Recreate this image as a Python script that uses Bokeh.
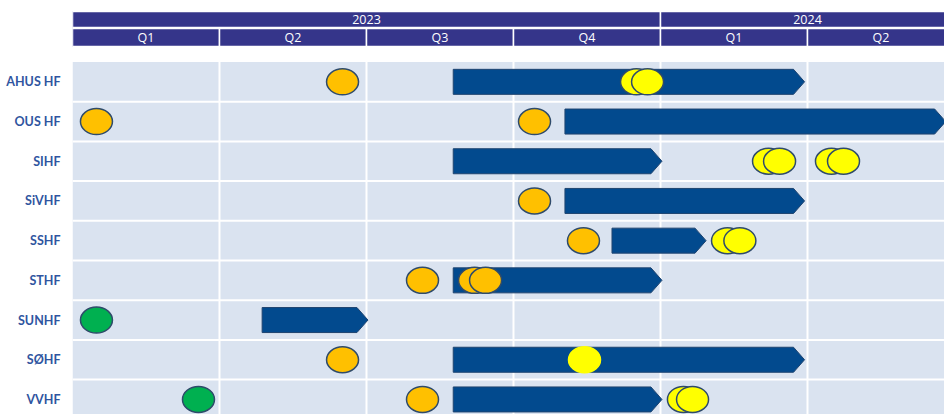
from bokeh.plotting import figure
from bokeh.models import Range1d, FixedTicker, ColumnDataSource
from bokeh.core.properties import value
from bokeh.embed import file_html
from bokeh.resources import INLINE

# ---------------- data ----------------
rows = ["AHUS HF", "OUS HF", "SIHF", "SiVHF", "SSHF", "STHF", "SUNHF", "SØHF", "VVHF"]

years = ["2023", "2024"]
year_start = [0, 4]
year_end = [4, 6]
quarters = ["Q1", "Q2", "Q3", "Q4", "Q1", "Q2"]

# bars (in quarters since start of Q1 2023)
bar_start = [2.59, 3.35, 2.59, 3.35, 3.67, 2.59, 1.29, 2.59, 2.59]
bar_end = [4.98, 5.94, 4.01, 4.98, 4.31, 4.01, 2.01, 4.98, 4.01]

# milestones
ms_row = ["AHUS HF", "AHUS HF", "AHUS HF",
          "OUS HF", "OUS HF",
          "SIHF", "SIHF", "SIHF", "SIHF",
          "SiVHF",
          "SSHF", "SSHF", "SSHF",
          "STHF", "STHF", "STHF",
          "SUNHF",
          "SØHF", "SØHF",
          "VVHF", "VVHF", "VVHF", "VVHF"]
ms_x = [1.837, 3.837, 3.912,
        0.163, 3.143,
        4.735, 4.81, 5.163, 5.245,
        3.143,
        3.476, 4.456, 4.54,
        2.381, 2.735, 2.81,
        0.163,
        1.837, 3.483,
        0.857, 2.381, 4.156, 4.218]
ms_kind = ["orange", "yellow", "yellow",
           "orange", "orange",
           "yellow", "yellow", "yellow", "yellow",
           "orange",
           "orange", "yellow", "yellow",
           "orange", "orange", "orange",
           "green",
           "orange", "yellow_plain",
           "green", "orange", "yellow", "yellow"]

# ---------------- styling ----------------
NAVY = "#35358A"
BAR = "#024A8E"
BG = "#DAE3F0"
LABEL = "#2F55A0"
OUTLINE = "#2F4B6B"
fill_map = {"orange": "#FFC000", "yellow": "#FFFF00", "yellow_plain": "#FFFF00", "green": "#00B050"}
line_map = {"orange": OUTLINE, "yellow": OUTLINE, "yellow_plain": "#FFFF00", "green": OUTLINE}

TIP = 0.075   # arrow tip length (quarters)
HALF = 0.315  # half bar height (rows)
n_rows = len(rows)
n_q = len(quarters)

p = figure(width=944, height=414, output_backend="svg", toolbar_location=None,
           x_range=Range1d(0, 5.932), y_range=Range1d(8.379, -2.049),
           x_axis_type=None, min_border_left=72, min_border_right=0,
           min_border_top=0, min_border_bottom=0)
p.outline_line_color = None
p.grid.visible = False

# background rows
p.quad(left=[0], right=[n_q], top=[-0.5], bottom=[n_rows + 0.5], fill_color=BG, line_color=None)

# white grid lines
vx = list(range(1, n_q))
p.segment(x0=vx, y0=[-0.5] * len(vx), x1=vx, y1=[n_rows + 0.5] * len(vx),
          line_color="white", line_width=2)
hy = [i + 0.5 for i in range(n_rows - 1)]
p.segment(x0=[0] * len(hy), y0=hy, x1=[n_q] * len(hy), y1=hy,
          line_color="white", line_width=2)

# header: years
p.quad(left=year_start, right=year_end, top=[-1.772] * 2, bottom=[-1.369] * 2,
       fill_color=NAVY, line_color="white", line_width=1.5)
p.text(x=[(a + b) / 2 for a, b in zip(year_start, year_end)], y=[-1.558] * 2, text=years,
       text_align="center", text_baseline="middle", text_color="white",
       text_font=value("Open Sans"), text_font_size="12.5px")
# header: quarters
qs = list(range(n_q))
p.quad(left=qs, right=[q + 1 for q in qs], top=[-1.344] * n_q, bottom=[-0.890] * n_q,
       fill_color=NAVY, line_color="white", line_width=1.5)
p.text(x=[q + 0.5 for q in qs], y=[-1.105] * n_q, text=quarters,
       text_align="center", text_baseline="middle", text_color="white",
       text_font=value("Open Sans"), text_font_size="12.5px")

# arrow bars
xs, ys = [], []
for i, (s, e) in enumerate(zip(bar_start, bar_end)):
    xs.append([s, e - TIP, e, e - TIP, s])
    ys.append([i - HALF, i - HALF, i, i + HALF, i + HALF])
p.patches(xs=xs, ys=ys, fill_color=BAR, line_color="#1F4470", line_width=1)

# milestones
src = ColumnDataSource(dict(
    x=ms_x,
    y=[rows.index(r) for r in ms_row],
    fill=[fill_map[k] for k in ms_kind],
    line=[line_map[k] for k in ms_kind],
))
p.ellipse(x="x", y="y", width=32, height=26, width_units="screen", height_units="screen",
          source=src, fill_color="fill", line_color="line", line_width=1.5)

# y axis labels
ax = p.yaxis[0]
ax.ticker = FixedTicker(ticks=list(range(n_rows)))
ax.major_label_overrides = {i: r for i, r in enumerate(rows)}
ax.axis_line_color = None
ax.major_tick_line_color = None
ax.minor_tick_line_color = None
ax.major_tick_out = 0
ax.major_tick_in = 0
ax.minor_tick_out = 0
ax.minor_tick_in = 0
ax.major_label_standoff = 12
ax.major_label_text_font = "Lato"
ax.major_label_text_font_style = "bold"
ax.major_label_text_font_size = "12.5px"
ax.major_label_text_color = LABEL

open("out.html", "w").write(file_html(p, INLINE))
